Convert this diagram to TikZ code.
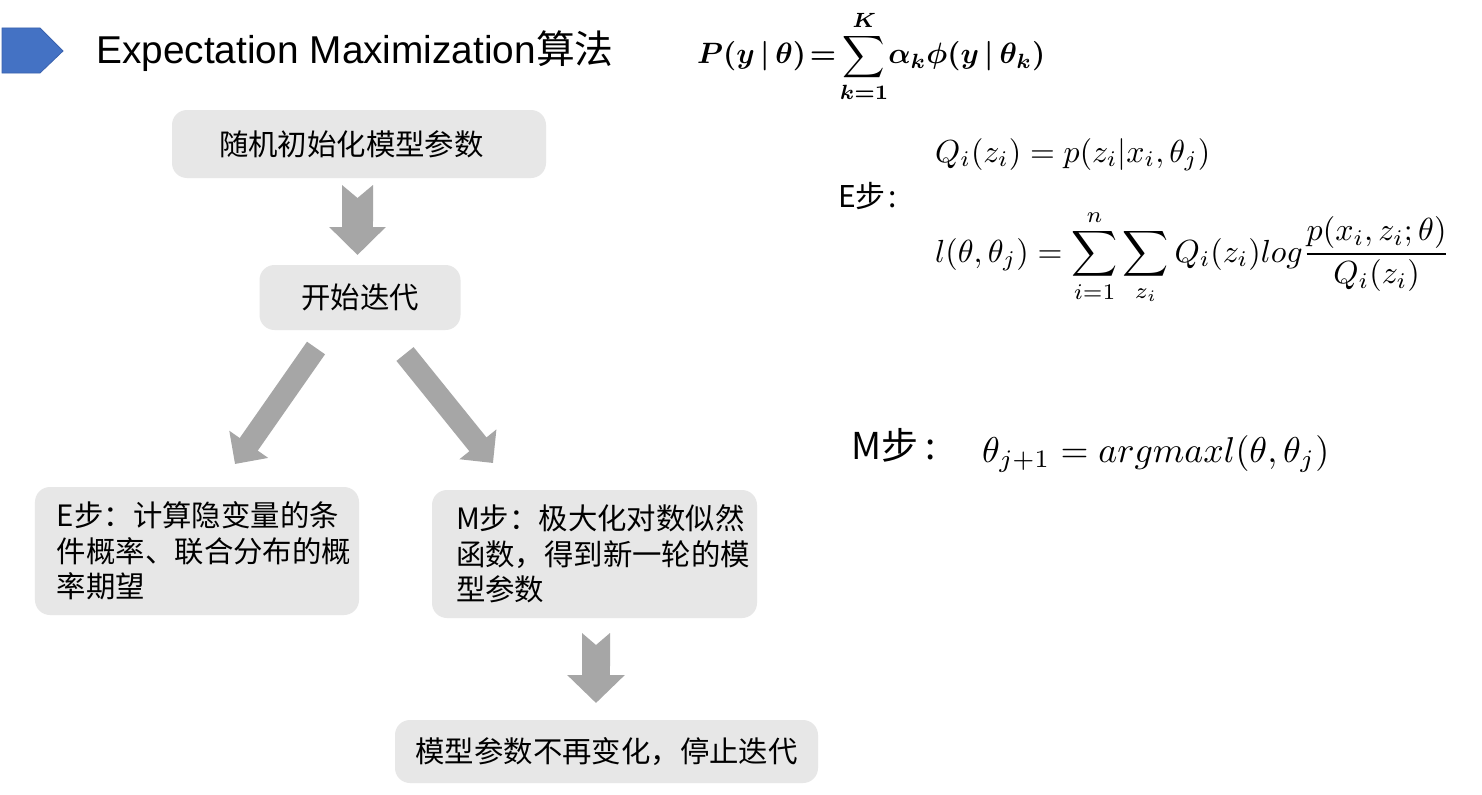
\documentclass[tikz,border=0pt]{standalone}
\usepackage{fontspec}
\setmainfont{Liberation Sans}
\newfontfamily\cjk{Noto Sans CJK SC}
\usepackage{graphicx}
\usepackage{amsmath,amssymb}
\usetikzlibrary{arrows.meta}
\definecolor{boxgray}{HTML}{E7E7E7}
\definecolor{arrgray}{HTML}{A6A6A6}
\definecolor{titleblue}{HTML}{4472C4}
\definecolor{blueedge}{HTML}{3A62AE}
\begin{document}
\begin{tikzpicture}[x=1bp,y=-1bp,
  stepbox/.style={fill=boxgray, draw=none, rounded corners=15bp, inner ysep=0pt,
    font=\cjk\fontsize{29.4bp}{35.5bp}\selectfont},
  formula/.style={inner sep=0pt, anchor=base west},
  steplabel/.style={inner sep=0pt, anchor=base west},
]
\useasboundingbox (0,0) rectangle (1482,794);
\fill[white] (0,0) rectangle (1482,794);

% title marker and title
\filldraw[fill=titleblue, draw=blueedge, line width=0.8bp]
  (2,28) -- (40,28) -- (63,51) -- (40,73) -- (2,73) -- cycle;
\node[steplabel, font=\fontsize{38.8bp}{44bp}\selectfont] (title) at (96,64)
  {Expectation Maximization{\cjk 算法}};

% formulas
\node[formula] (pf) at (697,64)
  {\resizebox{348bp}{!}{\boldmath$\displaystyle P(y\,|\,\theta)\!=\!\sum_{k=1}^{K}\!\alpha_k\phi(y\,|\,\theta_k)$}};
\node[formula] (qf) at (935,162)
  {\resizebox{275bp}{!}{$Q_i(z_i)=p(z_i|x_i,\theta_j)$}};
\node[steplabel, font=\cjk\fontsize{30bp}{34bp}\selectfont] (estep) at (838,207) {E步\hspace{3bp}:};
\node[formula] (lf) at (935,262)
  {\resizebox{515bp}{!}{$\displaystyle l(\theta,\theta_j)=\sum_{i=1}^{n}\sum_{z_i}Q_i(z_i)log\frac{p(x_i,z_i;\theta)}{Q_i(z_i)}$}};
\node[steplabel, font=\cjk\fontsize{37bp}{40bp}\selectfont] (mstep) at (851,459) {M步\hspace{7bp}:};
\node[formula] (mf) at (982,462)
  {\resizebox{347bp}{!}{$\theta_{j+1}=argmaxl(\theta,\theta_j)$}};

% flow boxes
\node[stepbox, inner xsep=47bp, text width=280bp, minimum height=68bp, align=left] (init) at (359,144) {随机初始化模型参数};
\node[stepbox, inner xsep=0pt, minimum width=201bp, minimum height=65bp] (iter) at (360,297.5) {开始迭代};
\node[stepbox, inner xsep=22bp, text width=280bp, minimum height=128bp, align=left] (ebox) at (197,551)
  {E步：计算隐变量的条\\件概率、联合分布的概\\率期望};
\node[stepbox, inner xsep=24bp, text width=277bp, minimum height=128bp, align=left] (mbox) at (594.5,554)
  {M步：极大化对数似然\\函数，得到新一轮的模\\型参数};
\node[stepbox, inner xsep=0pt, minimum width=423bp, minimum height=63bp] (stop) at (606.5,751.5) {模型参数不再变化，停止迭代};

% arrow end points
\coordinate (a1s) at (357.5,185);
\coordinate (a1e) at (357.5,255);
\coordinate (a2s) at (316,348);
\coordinate (a2e) at (235,464);
\coordinate (a3s) at (405,354);
\coordinate (a3e) at (493,463);
\coordinate (a4s) at (596,633);
\coordinate (a4e) at (596,703);

\draw[arrgray, line width=31bp, {Triangle Cap[reversed, length=13bp]}-{Triangle[width=55bp, length=28bp]}] (a1s) -- (a1e);
\draw[arrgray, line width=22bp, -{Triangle[width=46bp, length=24bp]}] (a2s) -- (a2e);
\draw[arrgray, line width=22bp, -{Triangle[width=46bp, length=24bp]}] (a3s) -- (a3e);
\draw[arrgray, line width=28bp, {Triangle Cap[reversed, length=12bp]}-{Triangle[width=56bp, length=28bp]}] (a4s) -- (a4e);
\end{tikzpicture}
\end{document}
